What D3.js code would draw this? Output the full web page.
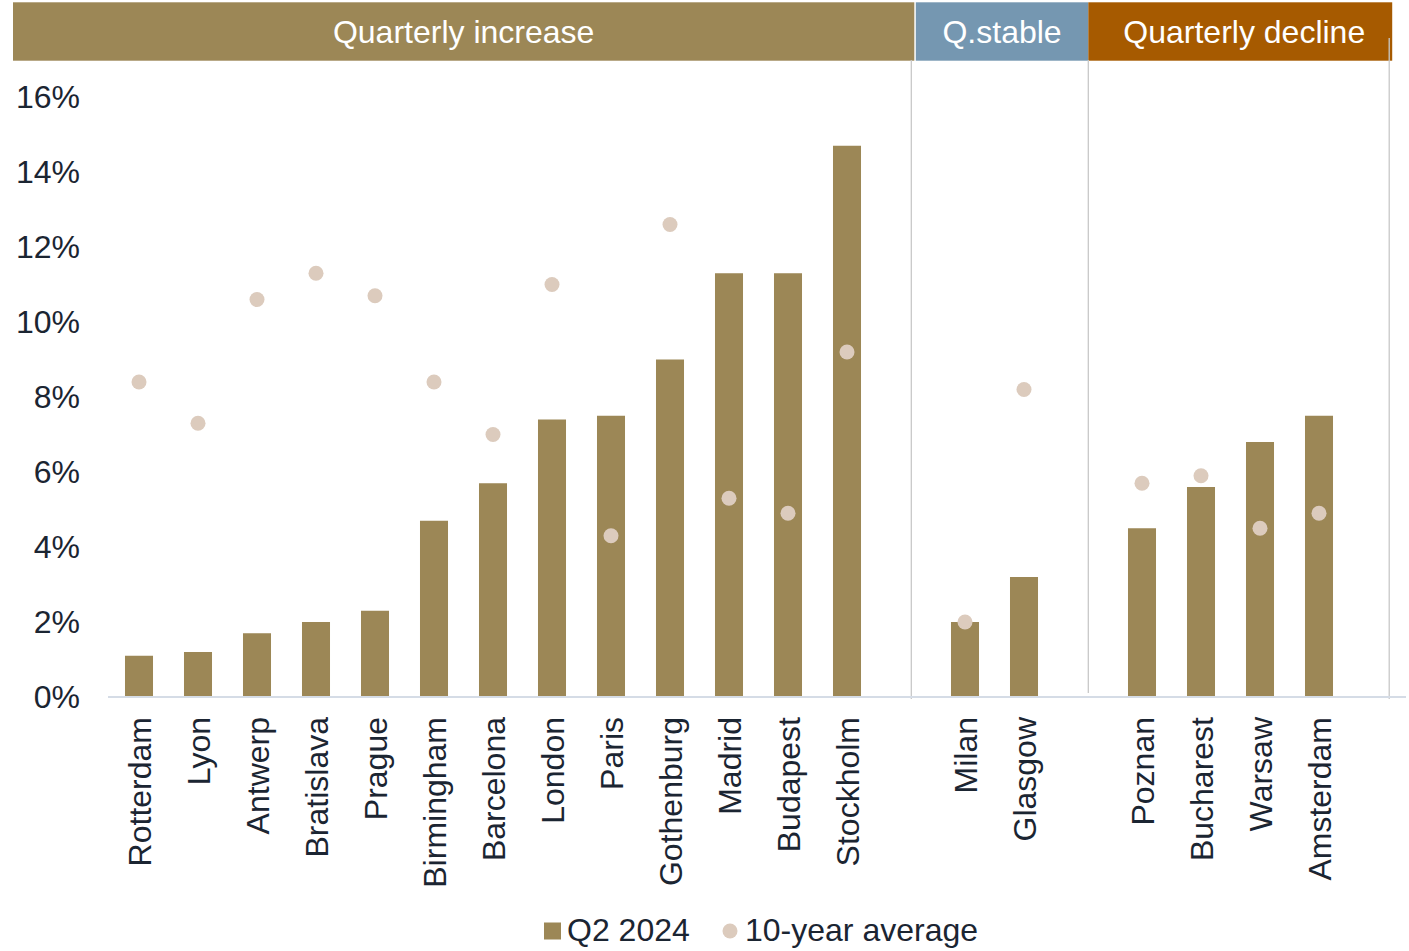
<!DOCTYPE html>
<html>
<head>
<meta charset="utf-8">
<script src="https://cdn.jsdelivr.net/npm/d3@7/dist/d3.min.js"></script>
<style>
  html, body { margin: 0; padding: 0; background: #ffffff; }
  svg { display: block; font-family: "Liberation Sans", Arial, sans-serif; }
</style>
</head>
<body>
<svg id="chart" width="1409" height="951"></svg>
<script>
// Rental growth by city, grouped by quarterly direction
const groupNames = ["Quarterly increase", "Q.stable", "Quarterly decline"];
const increaseCities = ["Rotterdam", "Lyon", "Antwerp", "Bratislava", "Prague", "Birmingham",
  "Barcelona", "London", "Paris", "Gothenburg", "Madrid", "Budapest", "Stockholm"];
const stableCities = ["Milan", "Glasgow"];
const declineCities = ["Poznan", "Bucharest", "Warsaw", "Amsterdam"];

// Q2 2024 growth (%), same order as the city lists above
const q2Increase = [1.1, 1.2, 1.7, 2.0, 2.3, 4.7, 5.7, 7.4, 7.5, 9.0, 11.3, 11.3, 14.7];
const q2Stable = [2.0, 3.2];
const q2Decline = [4.5, 5.6, 6.8, 7.5];

// 10-year average growth (%)
const avgIncrease = [8.4, 7.3, 10.6, 11.3, 10.7, 8.4, 7.0, 11.0, 4.3, 12.6, 5.3, 4.9, 9.2];
const avgStable = [2.0, 8.2];
const avgDecline = [5.7, 5.9, 4.5, 4.9];

const yTicks = [0, 2, 4, 6, 8, 10, 12, 14, 16];
const seriesNames = ["Q2 2024", "10-year average"];

const colors = {
  bar: "#9c8756",
  dot: "#dccbbd",
  text: "#1b2532",
  groups: ["#9c8756", "#7597b1", "#a65a00"],
  axis: "#d5dce6",
  divider: "#c8c8c8"
};

// Assemble rows; each group is followed by one empty slot
const groupsData = [
  { name: groupNames[0], cities: increaseCities, q2: q2Increase, avg: avgIncrease },
  { name: groupNames[1], cities: stableCities, q2: q2Stable, avg: avgStable },
  { name: groupNames[2], cities: declineCities, q2: q2Decline, avg: avgDecline }
];
const slots = [];
const rows = [];
const gapSlots = [];
groupsData.forEach((g, gi) => {
  g.cities.forEach((c, i) => {
    slots.push(c);
    rows.push({ city: c, q2: g.q2[i], avg: g.avg[i], group: gi });
  });
  const gap = "__gap" + gi;
  slots.push(gap);
  gapSlots.push(gap);
});

const svg = d3.select("#chart");
const fontSize = 32;

const x = d3.scaleBand().domain(slots).range([109.5, 1407.5]).paddingInner(0).paddingOuter(0);
const y = d3.scaleLinear().domain([0, 16]).range([697, 97]);
const step = x.step();
const barW = step * 0.475;

// Group dividers sit inside the empty slot that closes each group
const dividerFrac = [0.59, 0.59, 0.69];
const dividerX = gapSlots.map((s, i) => x(s) + dividerFrac[i] * step);
const dividerTop = [60, 60, 38];
const dividerBottom = [699, 693, 699];

// Header bands
const headerTop = 2.3, headerBottom = 60.7;
const headerEdges = [13, dividerX[0] + 3, dividerX[1], dividerX[2] + 3];
const headerGap = [0, 1.5, 0];
const header = svg.append("g");
groupsData.forEach((g, i) => {
  const x0 = headerEdges[i] + headerGap[i];
  const x1 = headerEdges[i + 1];
  header.append("rect")
    .attr("x", x0).attr("y", headerTop)
    .attr("width", x1 - x0).attr("height", headerBottom - headerTop)
    .attr("fill", colors.groups[i]);
  header.append("text")
    .attr("x", i === 2 ? (x0 + x1) / 2 + 4 : (x0 + x1) / 2)
    .attr("y", 43)
    .attr("text-anchor", "middle")
    .attr("fill", "#ffffff")
    .attr("font-size", fontSize)
    .text(g.name);
});

// Divider lines
svg.append("g").selectAll("line").data(dividerX).join("line")
  .attr("x1", d => d).attr("x2", d => d)
  .attr("y1", (d, i) => dividerTop[i]).attr("y2", (d, i) => dividerBottom[i])
  .attr("stroke", colors.divider).attr("stroke-width", 1.3);

// Y axis labels
const yAxis = d3.axisLeft(y).tickValues(yTicks).tickFormat(d => d + "%").tickSize(0).tickPadding(0);
const yg = svg.append("g").attr("transform", "translate(80,0)").call(yAxis);
yg.select(".domain").remove();
yg.selectAll("text")
  .attr("font-size", fontSize)
  .attr("font-family", "Liberation Sans, Arial, sans-serif")
  .attr("fill", colors.text)
  .attr("dy", "0.34em");

// Bars
svg.append("g").selectAll("rect").data(rows).join("rect")
  .attr("x", d => x(d.city) + (step - barW) / 2)
  .attr("width", barW)
  .attr("y", d => y(d.q2))
  .attr("height", d => y(0) - y(d.q2))
  .attr("fill", colors.bar);

// Baseline
svg.append("line")
  .attr("x1", 108).attr("x2", 1406)
  .attr("y1", y(0)).attr("y2", y(0))
  .attr("stroke", colors.axis).attr("stroke-width", 2);

// 10-year average markers
svg.append("g").selectAll("circle").data(rows).join("circle")
  .attr("cx", d => x(d.city) + step / 2)
  .attr("cy", d => y(d.avg))
  .attr("r", 7.5)
  .attr("fill", colors.dot);

// Category labels (rotated)
svg.append("g").selectAll("text").data(rows).join("text")
  .attr("transform", d => `translate(${x(d.city) + step / 2},717) rotate(-90)`)
  .attr("text-anchor", "end")
  .attr("dy", "0.36em")
  .attr("font-size", fontSize)
  .attr("fill", colors.text)
  .text(d => d.city);

// Legend
const legend = svg.append("g");
legend.append("rect")
  .attr("x", 544).attr("y", 922.5).attr("width", 17).attr("height", 17)
  .attr("fill", colors.bar);
legend.append("text")
  .attr("x", 567).attr("y", 941)
  .attr("font-size", fontSize).attr("fill", colors.text)
  .text(seriesNames[0]);
legend.append("circle")
  .attr("cx", 730).attr("cy", 931).attr("r", 7.5)
  .attr("fill", colors.dot);
legend.append("text")
  .attr("x", 745).attr("y", 941)
  .attr("font-size", fontSize).attr("fill", colors.text)
  .text(seriesNames[1]);
</script>
</body>
</html>
